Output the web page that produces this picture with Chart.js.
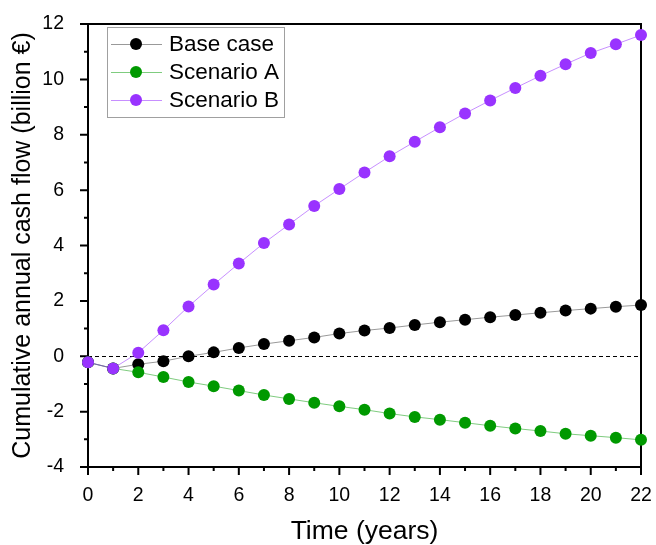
<!DOCTYPE html>
<html>
<head>
<meta charset="utf-8">
<script src="https://cdn.jsdelivr.net/npm/chart.js@4/dist/chart.umd.min.js"></script>
<style>
  html, body { margin: 0; padding: 0; background: #fff; }
  #wrap { width: 656px; height: 545px; }
</style>
</head>
<body>
<div id="wrap"><canvas id="cashChart" width="656" height="545"></canvas></div>
<script>
// Data (years 0..22, billion €)
const years = [0, 1, 2, 3, 4, 5, 6, 7, 8, 9, 10, 11, 12, 13, 14, 15, 16, 17, 18, 19, 20, 21, 22];
const baseCase = [-0.22, -0.44, -0.29, -0.18, 0.0, 0.14, 0.30, 0.44, 0.56, 0.68, 0.82, 0.93, 1.02, 1.13, 1.23, 1.32, 1.41, 1.49, 1.57, 1.65, 1.72, 1.79, 1.85];
const scenarioA = [-0.22, -0.44, -0.58, -0.75, -0.93, -1.08, -1.24, -1.40, -1.54, -1.68, -1.81, -1.93, -2.07, -2.19, -2.29, -2.40, -2.51, -2.61, -2.70, -2.80, -2.87, -2.94, -3.02];
const scenarioB = [-0.22, -0.44, 0.13, 0.94, 1.80, 2.59, 3.35, 4.09, 4.76, 5.43, 6.04, 6.64, 7.22, 7.75, 8.27, 8.77, 9.24, 9.69, 10.13, 10.55, 10.95, 11.27, 11.60];
const seriesNames = ['Base case', 'Scenario A', 'Scenario B'];
const xTicks = [0, 2, 4, 6, 8, 10, 12, 14, 16, 18, 20, 22];
const yTicks = [-4, -2, 0, 2, 4, 6, 8, 10, 12];

const FONT = '"Liberation Sans", Arial, sans-serif';

function toPoints(values) {
    return years.map((x, i) => ({ x: x, y: values[i] }));
}

// frame, ticks and zero line drawn under the markers
const framePlugin = {
    id: 'frame',
    beforeDatasetsDraw(chart) {
        const { ctx, chartArea: a, scales } = chart;
        const xs = scales.x, ys = scales.y;
        ctx.save();
        // dashed zero line
        ctx.strokeStyle = '#000';
        ctx.lineWidth = 1;
        ctx.setLineDash([4, 3]);
        const y0 = Math.round(ys.getPixelForValue(0)) + 0.5;
        ctx.beginPath();
        ctx.moveTo(a.left, y0);
        ctx.lineTo(a.right, y0);
        ctx.stroke();
        ctx.setLineDash([]);
        // ticks
        ctx.lineWidth = 2;
        ctx.beginPath();
        for (let v = xs.min; v <= xs.max; v++) {
            const px = xs.getPixelForValue(v);
            const len = v % 2 === 0 ? 8 : 4;
            ctx.moveTo(px, a.bottom);
            ctx.lineTo(px, a.bottom + len);
        }
        for (let v = ys.min; v <= ys.max; v++) {
            const py = ys.getPixelForValue(v);
            const len = v % 2 === 0 ? 8 : 4;
            ctx.moveTo(a.left, py);
            ctx.lineTo(a.left - len, py);
        }
        ctx.stroke();
        // box
        ctx.strokeRect(a.left, a.top, a.right - a.left, a.bottom - a.top);
        ctx.restore();
    }
};

// legend box with line + marker samples
const legendPlugin = {
    id: 'boxLegend',
    afterDraw(chart) {
        const ctx = chart.ctx;
        const left = 107, top = 27, w = 177, h = 90, rowH = 28;
        ctx.save();
        ctx.fillStyle = '#fff';
        ctx.fillRect(left, top, w, h);
        ctx.strokeStyle = '#a0a0a0';
        ctx.lineWidth = 1;
        ctx.strokeRect(left + 0.5, top + 0.5, w, h);
        ctx.font = '22.5px ' + FONT;
        ctx.textBaseline = 'middle';
        chart.data.datasets.forEach((ds, i) => {
            const cy = top + 17 + i * rowH;
            ctx.strokeStyle = ds.borderColor;
            ctx.lineWidth = 1;
            ctx.beginPath();
            ctx.moveTo(left + 4, cy + 0.5);
            ctx.lineTo(left + 55, cy + 0.5);
            ctx.stroke();
            ctx.fillStyle = ds.pointBackgroundColor;
            ctx.beginPath();
            ctx.arc(left + 29, cy, 6, 0, Math.PI * 2);
            ctx.fill();
            ctx.fillStyle = '#000';
            ctx.fillText(ds.label, left + 62, cy + 1);
        });
        ctx.restore();
    }
};

function makeSet(label, values, pointColor, lineColor, order) {
    return {
        label: label,
        data: toPoints(values),
        borderColor: lineColor,
        borderWidth: 1,
        pointBackgroundColor: pointColor,
        pointBorderColor: pointColor,
        pointBorderWidth: 0,
        pointRadius: 6,
        pointHoverRadius: 6,
        tension: 0,
        clip: false,
        order: order
    };
}

new Chart(document.getElementById('cashChart').getContext('2d'), {
    type: 'line',
    data: {
        datasets: [
            makeSet(seriesNames[0], baseCase, '#000000', 'rgba(0,0,0,0.4)', 3),
            makeSet(seriesNames[1], scenarioA, '#009900', 'rgba(0,153,0,0.5)', 2),
            makeSet(seriesNames[2], scenarioB, '#9933ff', 'rgba(153,51,255,0.55)', 1)
        ]
    },
    options: {
        responsive: false,
        animation: false,
        events: [],
        layout: { padding: { top: 24, right: 15, left: 0, bottom: 0 } },
        plugins: {
            legend: { display: false },
            tooltip: { enabled: false }
        },
        scales: {
            x: {
                type: 'linear',
                min: 0,
                max: 22,
                afterFit: s => { s.height = 78; s.paddingLeft = 0; s.paddingRight = 0; },
                afterBuildTicks: s => { s.ticks = xTicks.map(v => ({ value: v })); },
                grid: { display: false },
                border: { display: false },
                ticks: {
                    color: '#000',
                    font: { family: FONT, size: 19.5 },
                    padding: 9,
                    maxRotation: 0
                },
                title: {
                    display: true,
                    text: 'Time (years)',
                    color: '#000',
                    font: { family: FONT, size: 26.5, lineHeight: 1 },
                    padding: { top: 0, bottom: 0 }
                }
            },
            y: {
                type: 'linear',
                min: -4,
                max: 12,
                afterFit: s => { s.width = 88; s.paddingTop = 0; s.paddingBottom = 0; },
                afterBuildTicks: s => { s.ticks = yTicks.map(v => ({ value: v })); },
                grid: { display: false },
                border: { display: false },
                ticks: {
                    color: '#000',
                    font: { family: FONT, size: 19.5 },
                    padding: 16
                },
                title: {
                    display: true,
                    text: 'Cumulative annual cash flow (billion €)',
                    color: '#000',
                    font: { family: FONT, size: 25, lineHeight: 1 },
                    padding: { top: 11, bottom: 0 }
                }
            }
        }
    },
    plugins: [framePlugin, legendPlugin]
});
</script>
</body>
</html>
